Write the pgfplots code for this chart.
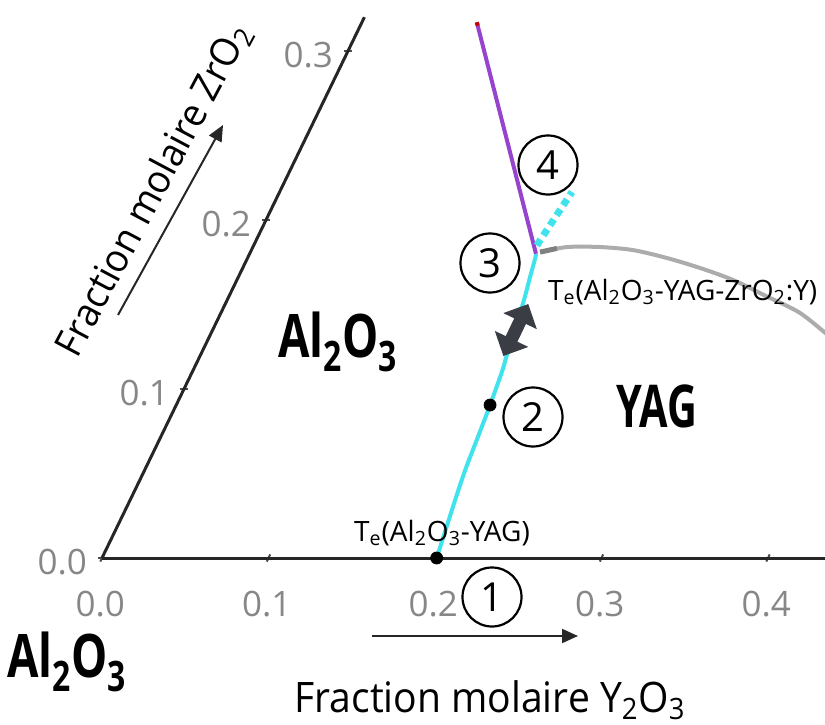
\documentclass[border=0pt]{standalone}
\usepackage{pgfplots}
\pgfplotsset{compat=1.18}
\usepackage{fontspec}
\setmainfont{Open Sans}
\usepackage{graphicx}
\usetikzlibrary{arrows.meta}
\definecolor{cyanl}{RGB}{64,226,236}
\definecolor{purp}{RGB}{150,68,206}
\definecolor{grayc}{RGB}{172,172,172}
\definecolor{tickg}{RGB}{135,135,135}
\definecolor{arrg}{RGB}{58,62,68}

\pgfplotstableread{
y z
0.201 0.000
0.1955 0.0325
0.1925 0.0521
0.1905 0.0716
0.1885 0.0905
0.1858 0.111
0.1838 0.1213
0.1786 0.1509
0.1752 0.1663
0.1728 0.1775
0.172 0.180
}\cyanline

\pgfplotstableread{
y z
0.172 0.180
0.069 0.317
}\purpline

\pgfplotstableread{
y z
0.174 0.181
0.1887 0.184
0.2085 0.184
0.2292 0.1822
0.2519 0.1775
0.2747 0.1716
0.298 0.1645
0.3225 0.155
0.3478 0.145
0.3728 0.1308
}\grayline

\begin{document}
\begin{tikzpicture}
\useasboundingbox (-51pt,-83pt) rectangle (361.5pt,279pt);
\clip (-51pt,-83pt) rectangle (361.5pt,279pt);
\begin{axis}[
  anchor=origin, at={(0pt,0pt)},
  x={(832.5pt,0pt)}, y={(410pt,845pt)},
  xmin=0, xmax=0.44, ymin=0, ymax=0.32,
  axis lines*=left,
  axis line style={line width=1.5pt, black!85},
  clip=false,
  xtick={0,0.1,0.2,0.3,0.4},
  ytick={0,0.1,0.2,0.3},
  tick align=center,
  major tick length=4pt,
  tick style={line width=1pt, black!70},
  /pgf/number format/assume math mode=true,
  /pgf/number format/fixed,
  /pgf/number format/fixed zerofill,
  /pgf/number format/precision=1,
  ticklabel style={font=\fontsize{17.5}{20}\selectfont, text=tickg},
  xticklabel style={anchor=center, yshift=-21pt},
  yticklabel style={anchor=east, xshift=-2pt, yshift=-2pt},
]
\addplot[cyanl, line width=2pt, no marks, smooth, tension=0.5] table[x=y, y=z] {\cyanline};
\addplot[purp, line width=2pt, no marks] table[x=y, y=z] {\purpline};
\addplot[red!80!black, line width=2pt, no marks] coordinates {(0.0705,0.315) (0.069,0.317)};
\addplot[grayc, line width=2pt, no marks, smooth] table[x=y, y=z] {\grayline};
\addplot[gray, line width=2.5pt, no marks] coordinates {(0.174,0.181) (0.183,0.1832)};
\addplot[cyanl, line width=3.5pt, dash pattern=on 3.5pt off 2.5pt, no marks] coordinates {(0.170,0.185) (0.1756,0.2166)};
\addplot[only marks, mark=*, mark size=3pt, black] coordinates {(0.201,0) (0.1885,0.0905)};
\draw[arrg, line width=6.5pt, {Triangle[width=18pt,length=9.5pt]}-{Triangle[width=18pt,length=9.5pt]}]
  (axis cs:0.1822,0.1195) -- (axis cs:0.182,0.1503);
\end{axis}

% circled numbers
\foreach \n/\px/\py in {1/195/-19.5, 2/215.5/70.5, 3/194/147.5, 4/223/196.5}
  \node[draw, circle, line width=1.1pt, minimum size=29.5pt, inner sep=0pt,
        font=\fontsize{20}{20}\selectfont] at (\px pt,\py pt) {\n};

\node[font=\fontsize{14}{14}\selectfont] at (170pt,12.5pt)
  {T\textsubscript{e}(Al\textsubscript{2}O\textsubscript{3}-YAG)};
\node[font=\fontsize{14}{14}\selectfont, anchor=west] at (219.5pt,133pt)
  {T\textsubscript{e}(Al\textsubscript{2}O\textsubscript{3}-YAG-ZrO\textsubscript{2}:Y)};

\node at (118pt,108pt) {\scalebox{0.76}[1]{\fontsize{30}{30}\selectfont\bfseries Al\textsubscript{2}O\textsubscript{3}}};
\node at (-17.5pt,-52pt) {\scalebox{0.76}[1]{\fontsize{30}{30}\selectfont\bfseries Al\textsubscript{2}O\textsubscript{3}}};
\node at (277.5pt,76pt) {\scalebox{0.7}[1]{\fontsize{29.5}{30}\selectfont\bfseries YAG}};

\node at (194pt,-71pt) {\scalebox{0.93}[1]{\fontsize{21}{21}\selectfont Fraction molaire Y\textsubscript{2}O\textsubscript{3}}};
\draw[black!85, line width=1pt, -{Triangle[width=7pt,length=8pt]}] (135pt,-39pt) -- (238pt,-39pt);

\node[rotate=62] at (26pt,184pt) {\scalebox{0.95}[1]{\fontsize{19.5}{20}\selectfont Fraction molaire ZrO\textsubscript{2}}};
\draw[black!85, line width=1pt, -{Triangle[width=7pt,length=8pt]}] (8pt,121.5pt) -- (60.5pt,216.5pt);
\end{tikzpicture}
\end{document}
